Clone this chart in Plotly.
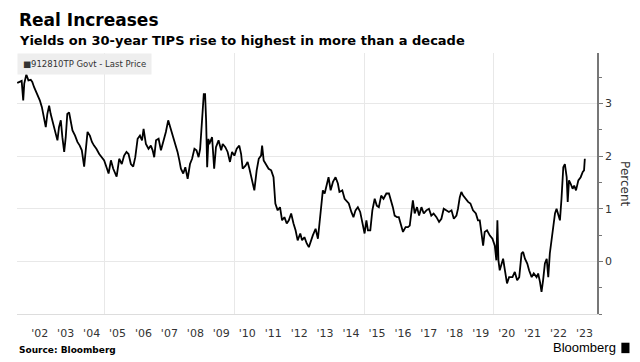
import plotly.graph_objects as go
from datetime import datetime

# Decimal-year time stamps and yields (percent)
t_years = [
    2001.63, 2001.70, 2001.80, 2001.86, 2001.90, 2001.98, 2002.06, 2002.15, 2002.21, 2002.28,
    2002.41, 2002.50, 2002.58, 2002.66, 2002.73, 2002.79, 2002.86, 2002.92, 2003.01, 2003.12,
    2003.18, 2003.24, 2003.31, 2003.37, 2003.44, 2003.50, 2003.56, 2003.63, 2003.70, 2003.76,
    2003.86, 2003.95, 2004.04, 2004.12, 2004.21, 2004.27, 2004.34, 2004.43, 2004.51, 2004.59,
    2004.68, 2004.79, 2004.89, 2004.98, 2005.07, 2005.15, 2005.24, 2005.33, 2005.46, 2005.56,
    2005.66, 2005.75, 2005.84, 2005.92, 2006.01, 2006.10, 2006.18, 2006.27, 2006.36, 2006.44,
    2006.50, 2006.59, 2006.69, 2006.78, 2006.85, 2006.91, 2006.98, 2007.08, 2007.17, 2007.26,
    2007.36, 2007.45, 2007.53, 2007.62, 2007.72, 2007.81, 2007.88, 2007.94, 2008.03, 2008.11,
    2008.20, 2008.29, 2008.37, 2008.46, 2008.54, 2008.62, 2008.68, 2008.75, 2008.82, 2008.87,
    2008.91, 2008.95, 2009.00, 2009.03, 2009.14, 2009.22, 2009.29, 2009.39, 2009.49, 2009.55,
    2009.65, 2009.74, 2009.83, 2009.91, 2010.00, 2010.09, 2010.19, 2010.26, 2010.32, 2010.43,
    2010.51, 2010.58, 2010.67, 2010.77, 2010.86, 2010.94, 2011.03, 2011.07, 2011.13, 2011.22,
    2011.32, 2011.42, 2011.51, 2011.58, 2011.67, 2011.76, 2011.84, 2011.93, 2012.02, 2012.10,
    2012.19, 2012.28, 2012.36, 2012.44, 2012.54, 2012.61, 2012.70, 2012.79, 2012.87, 2013.02,
    2013.13, 2013.22, 2013.28, 2013.35, 2013.41, 2013.48, 2013.56, 2013.63, 2013.71, 2013.80,
    2013.90, 2013.99, 2014.05, 2014.16, 2014.25, 2014.34, 2014.41, 2014.51, 2014.59, 2014.67,
    2014.76, 2014.85, 2014.95, 2015.02, 2015.09, 2015.15, 2015.24, 2015.32, 2015.41, 2015.49,
    2015.57, 2015.66, 2015.75, 2015.86, 2015.96, 2016.05, 2016.11, 2016.18, 2016.27, 2016.34,
    2016.44, 2016.50, 2016.60, 2016.69, 2016.76, 2016.82, 2016.88, 2016.95, 2017.04, 2017.12,
    2017.21, 2017.30, 2017.40, 2017.50, 2017.59, 2017.68, 2017.79, 2017.89, 2017.98, 2018.07,
    2018.17, 2018.27, 2018.37, 2018.46, 2018.56, 2018.62, 2018.69, 2018.75, 2018.82, 2018.91,
    2019.01, 2019.10, 2019.20, 2019.31, 2019.39, 2019.46, 2019.53, 2019.59, 2019.65, 2019.74,
    2019.85, 2019.95, 2020.04, 2020.10, 2020.14, 2020.18, 2020.23, 2020.30, 2020.36, 2020.43,
    2020.51, 2020.59, 2020.72, 2020.81, 2020.90, 2020.98, 2021.07, 2021.13, 2021.20, 2021.29,
    2021.36, 2021.46, 2021.54, 2021.65, 2021.71, 2021.78, 2021.84, 2021.90, 2021.97, 2022.04,
    2022.10, 2022.16, 2022.23, 2022.29, 2022.36, 2022.42, 2022.48, 2022.55, 2022.61, 2022.68,
    2022.74, 2022.81, 2022.85, 2022.90, 2022.96, 2023.04, 2023.10, 2023.17, 2023.26, 2023.35,
    2023.43, 2023.48, 2023.51,
]
yields = [
    3.39, 3.41, 3.43, 3.06, 3.38, 3.55, 3.44, 3.45, 3.41, 3.31,
    3.18, 3.06, 2.93, 2.68, 2.55, 2.80, 2.96, 2.80, 2.64, 2.46,
    2.30, 2.55, 2.68, 2.36, 2.08, 2.36, 2.80, 2.83, 2.68, 2.49,
    2.39, 2.27, 2.20, 2.11, 1.80, 2.11, 2.46, 2.39, 2.27, 2.20,
    2.14, 2.04, 1.98, 1.92, 1.79, 1.67, 1.92, 1.76, 1.61, 1.95,
    1.85, 2.01, 2.08, 2.04, 1.85, 1.80, 1.98, 2.33, 2.39, 2.30,
    2.52, 2.23, 2.14, 2.20, 2.11, 1.98, 2.30, 2.33, 2.11, 2.27,
    2.46, 2.68, 2.55, 2.36, 2.23, 2.08, 1.92, 1.76, 1.67, 1.79,
    1.57, 1.85, 1.95, 2.14, 2.11, 1.98, 2.14, 2.68, 3.18, 3.18,
    2.68, 1.79, 2.33, 2.23, 2.36, 1.76, 2.17, 2.30, 2.11, 2.23,
    2.17, 2.08, 1.89, 2.08, 2.01, 2.14, 2.20, 2.04, 1.76, 1.82,
    1.89, 1.76, 1.57, 1.35, 1.73, 1.95, 2.01, 2.20, 1.92, 1.85,
    1.76, 1.73, 1.60, 1.10, 0.97, 1.03, 0.78, 0.84, 0.72, 0.78,
    0.91, 0.72, 0.59, 0.40, 0.53, 0.40, 0.46, 0.34, 0.27, 0.49,
    0.62, 0.43, 0.72, 1.03, 1.35, 1.29, 1.48, 1.60, 1.35, 1.51,
    1.60, 1.48, 1.32, 1.35, 1.19, 1.13, 1.10, 0.94, 0.84, 0.97,
    1.03, 0.94, 0.72, 0.53, 0.78, 0.59, 0.59, 0.97, 1.19, 1.06,
    1.03, 1.25, 1.19, 1.29, 1.29, 1.16, 1.03, 0.87, 0.84, 0.84,
    0.68, 0.56, 0.65, 0.65, 0.68, 0.97, 1.16, 0.91, 1.03, 0.87,
    1.03, 0.91, 0.97, 1.00, 0.87, 0.91, 0.84, 0.75, 0.81, 1.00,
    0.97, 0.94, 0.97, 0.81, 0.87, 1.00, 1.22, 1.32, 1.25, 1.19,
    1.13, 1.10, 0.97, 0.91, 0.78, 0.78, 0.53, 0.30, 0.56, 0.59,
    0.49, 0.43, 0.30, 0.02, 0.78, 0.02, -0.17, -0.04, 0.05, -0.17,
    -0.42, -0.30, -0.30, -0.20, -0.36, -0.30, 0.15, 0.18, 0.05, -0.04,
    -0.17, -0.30, -0.23, -0.30, -0.23, -0.39, -0.58, -0.36, -0.04, 0.05,
    -0.30, 0.15, 0.40, 0.65, 0.91, 1.00, 0.87, 0.78, 1.19, 1.79,
    1.85, 1.60, 1.13, 1.54, 1.48, 1.38, 1.44, 1.35, 1.54, 1.60,
    1.70, 1.73, 1.95,
]

label_years = list(range(2002, 2024))
year_labels = ["'%02d" % (y % 100) for y in label_years]
y_tick_vals = [0, 1, 2, 3]
series_name = "912810TP Govt - Last Price"


def to_date(y):
    yr = int(y)
    start = datetime(yr, 1, 1)
    end = datetime(yr + 1, 1, 1)
    return start + (end - start) * (y - yr)


dates = [to_date(t) for t in t_years]
tick_dates = [datetime(y, 7, 1) for y in label_years]

FONT = "DejaVu Sans"
fig = go.Figure()
fig.add_trace(go.Scatter(
    x=dates, y=yields, mode="lines",
    line=dict(color="#000000", width=1.8),
    name=series_name, showlegend=False,
))

# page body has an 8px default margin, so the figure is 8px smaller
fig.update_layout(
    width=632, height=354,
    margin=dict(l=9, r=43, t=45, b=48),
    paper_bgcolor="white", plot_bgcolor="white",
    font=dict(family=FONT, color="#333333", size=11),
    xaxis=dict(
        range=[to_date(2001.62), to_date(2023.98)],
        tickvals=tick_dates, ticktext=year_labels,
        showgrid=False, zeroline=False,
        ticks="outside", ticklen=9, tickcolor="rgba(0,0,0,0)",
        tickfont=dict(size=11, color="#333333"),
        showline=True, linecolor="#dddddd", linewidth=1,
        minor=dict(tick0="2005-01-01", dtick="M60", showgrid=True,
                   gridcolor="#e8e8e8", gridwidth=1, ticks=""),
    ),
    yaxis=dict(
        side="right", range=[-1.0, 3.96],
        tickvals=y_tick_vals,
        showgrid=True, gridcolor="#e8e8e8", gridwidth=1, zeroline=False,
        showline=True, linecolor="#777777", linewidth=1.5,
        ticks="outside", ticklen=4, tickcolor="#777777",
        tickfont=dict(size=11, color="#333333"),
        minor=dict(dtick=0.5, ticks="outside", ticklen=3, tickcolor="#777777", showgrid=False),
    ),
)

annotations = [
    dict(text="<b>Real Increases</b>", x=0, y=1.128, xref="paper", yref="paper",
         xanchor="left", yanchor="middle", showarrow=False,
         font=dict(family=FONT, size=17, color="#000000")),
    dict(text="<b>Yields on 30-year TIPS rise to highest in more than a decade</b>",
         x=0, y=1.046, xref="paper", yref="paper", xanchor="left", yanchor="middle",
         showarrow=False, font=dict(family=FONT, size=13, color="#000000")),
    dict(text="■" + series_name, x=0, y=1.0, xref="paper", yref="paper",
         xanchor="left", yanchor="top", showarrow=False, bgcolor="#eeeeee",
         borderpad=5, font=dict(family=FONT, size=8.5, color="#333333")),
    dict(text="Percent", x=1.049, y=0.50, xref="paper", yref="paper",
         xanchor="center", yanchor="middle", textangle=90, showarrow=False,
         font=dict(family=FONT, size=12, color="#333333")),
    dict(text="<b>Source: Bloomberg</b>", x=0, y=-0.138, xref="paper", yref="paper",
         xanchor="left", yanchor="middle", showarrow=False,
         font=dict(family=FONT, size=9, color="#000000")),
    dict(text="Bloomberg", x=1.036, y=-0.13, xref="paper", yref="paper",
         xanchor="right", yanchor="middle", showarrow=False,
         font=dict(family="Liberation Sans", size=13, color="#000000")),
]
fig.update_layout(annotations=annotations)

fig.add_shape(type="rect", xref="paper", yref="paper",
              x0=1.042, x1=1.056, y0=-0.15, y1=-0.11,
              fillcolor="#000000", line=dict(width=0))

fig.write_html("out.html")
